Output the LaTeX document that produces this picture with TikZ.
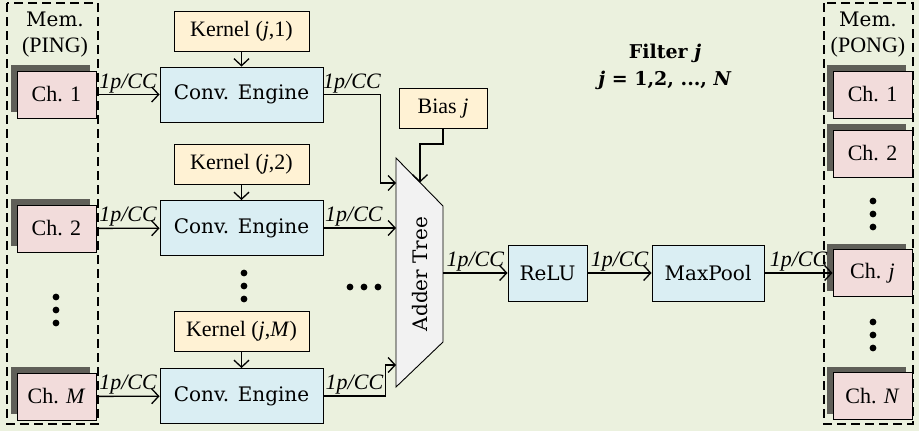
\documentclass[tikz,border=0pt]{standalone}
\usepackage{fontspec}
\setmainfont{Liberation Serif}
\newfontfamily\slabfont{DejaVu Serif}
\usepackage{tikz}
\usetikzlibrary{arrows.meta,positioning,shadows}
\definecolor{BackColor}{RGB}{235,241,222}
\definecolor{ChColor}{RGB}{242,220,219}
\definecolor{UnitColor}{RGB}{218,238,243}
\definecolor{ParamColor}{RGB}{255,242,212}
\definecolor{AdderColor}{RGB}{242,242,242}
\definecolor{ShadowColor}{RGB}{95,95,88}
\tikzset{
  cnnch/.style={draw, line width=0.9pt, fill=ChColor, minimum width=79pt, minimum height=47pt, inner sep=0pt,
    drop shadow={shadow xshift=-6pt, shadow yshift=6pt, opacity=1, fill=ShadowColor}},
  cnnunit/.style={draw, line width=0.9pt, fill=UnitColor, minimum height=55pt, inner sep=0pt, font=\slabfont\fontsize{20}{24}\selectfont},
  cnnparam/.style={draw, line width=0.9pt, fill=ParamColor, minimum height=40pt, inner sep=0pt},
  cnnrate/.style={font=\fontsize{22}{26}\selectfont\itshape, inner sep=1pt},
  cnnmem/.style={draw, line width=1.6pt, dash pattern=on 9pt off 5pt},
  cnndot/.style={circle, fill=black, inner sep=2.4pt},
  cnnflow/.style={-{Straight Barb[length=7pt,width=15pt]}, line width=1.3pt},
}

\begin{document}
\begin{tikzpicture}[x=1pt, y=-1pt, every node/.style={font=\fontsize{22}{26}\selectfont}]
      \fill[BackColor] (0,0) rectangle (919,431);
      \useasboundingbox (0,0) rectangle (919,431);

      % memories
      \draw[cnnmem] (7,3) rectangle (98,424);
      \draw[cnnmem] (824,3) rectangle (913,424);
      \node[align=center] (ping) at (55,35) {{\slabfont\fontsize{20}{26}\selectfont Mem.}\\(PING)};
      \node[align=center] (pong) at (868,35) {{\slabfont\fontsize{20}{26}\selectfont Mem.}\\(PONG)};

      \node[cnnch] (i1) at (56.5,94.5) {Ch. 1};
      \node[cnnch] (i2) at (56.5,228.5) {Ch. 2};
      \node[cnnch] (iM) at (56.5,396.5) {Ch. \textit{M}};

      \node[cnnch] (o1) at (872.5,94.5) {Ch. 1};
      \node[cnnch] (o2) at (872.5,153.5) {Ch. 2};
      \node[cnnch] (oj) at (872.5,273) {Ch. \textit{j}};
      \node[cnnch] (oN) at (872.5,396) {Ch. \textit{N}};

      % engines and kernels
      \node[cnnparam, minimum width=135pt] (k1) at (241.5,31) {Kernel (\textit{j},1)};
      \node[cnnparam, minimum width=135pt] (k2) at (241.5,164) {Kernel (\textit{j},2)};
      \node[cnnparam, minimum width=135pt] (kM) at (241.5,331.5) {Kernel (\textit{j},\textit{M})};
      \node[cnnunit, minimum width=163pt] (e1) at (241.5,94.5) {Conv. Engine};
      \node[cnnunit, minimum width=163pt] (e2) at (241.5,228) {Conv. Engine};
      \node[cnnunit, minimum width=163pt] (eM) at (241.5,396) {Conv. Engine};
      \node[cnnparam, minimum width=88pt] (bias) at (443,108.5) {Bias \textit{j}};

      % adder tree
      \draw[fill=AdderColor, line width=0.9pt] (396,158) -- (443,206) -- (443,342) -- (396,387) -- cycle;
      \node[rotate=90, font=\slabfont\fontsize{20}{24}\selectfont] (adder) at (420,274) {Adder Tree};
      \coordinate (a1) at (396,183);
      \coordinate (a2) at (396,228);
      \coordinate (aM) at (396,365);
      \coordinate (ab) at (420,182.5);
      \coordinate (aout) at (443,273);

      \node[cnnunit, minimum width=79pt, minimum height=56pt] (relu) at (547.5,273) {ReLU};
      \node[cnnunit, minimum width=112pt, minimum height=56pt] (pool) at (708,273) {MaxPool};

      \node[font=\slabfont\bfseries\fontsize{19}{27}\selectfont, align=center] (filt) at (665,67) {Filter \textit{j}\\\textit{j} = 1,2, ..., \textit{N}};

      % dots
      \node[cnndot] (pd1) at (56,297) {};
      \node[cnndot] (pd2) at (56,310) {};
      \node[cnndot] (pd3) at (56,323) {};
      \node[cnndot] (ed1) at (244,273) {};
      \node[cnndot] (ed2) at (244,286) {};
      \node[cnndot] (ed3) at (244,299) {};
      \node[cnndot] (hd1) at (350,287) {};
      \node[cnndot] (hd2) at (364,287) {};
      \node[cnndot] (hd3) at (378,287) {};
      \node[cnndot] (qd1) at (873,201) {};
      \node[cnndot] (qd2) at (873,214) {};
      \node[cnndot] (qd3) at (873,227) {};
      \node[cnndot] (qd4) at (873,322) {};
      \node[cnndot] (qd5) at (873,335) {};
      \node[cnndot] (qd6) at (873,348) {};

      % data flow
      \draw[cnnflow] (i1) -- node[cnnrate, above] (r1) {1p/CC} (e1);
      \draw[cnnflow] (i2) -- node[cnnrate, above] (r2) {1p/CC} (e2);
      \draw[cnnflow] (iM) -- node[cnnrate, above] (r3) {1p/CC} (eM);

      \draw[cnnflow] (k1) -- (e1);
      \draw[cnnflow] (k2) -- (e2);
      \draw[cnnflow] (kM) -- (eM);

      \draw[cnnflow] (e1.east) -- node[cnnrate, above] (r4) {1p/CC} ++(57,0) |- (a1);
      \draw[cnnflow] (e2.east) -- node[cnnrate, above, pos=0.42] (r5) {1p/CC} (a2);
      \draw[cnnflow] (eM.east) -- node[cnnrate, above] (r6) {1p/CC} ++(62,0) |- (aM);
      \draw[cnnflow] (bias.south) -- ++(0,15) -| (ab);

      \draw[cnnflow] (aout) -- node[cnnrate, above] (r7) {1p/CC} (relu);
      \draw[cnnflow] (relu) -- node[cnnrate, above] (r8) {1p/CC} (pool);
      \draw[cnnflow] (pool) -- node[cnnrate, above] (r9) {1p/CC} (oj);
    \end{tikzpicture}
\end{document}
